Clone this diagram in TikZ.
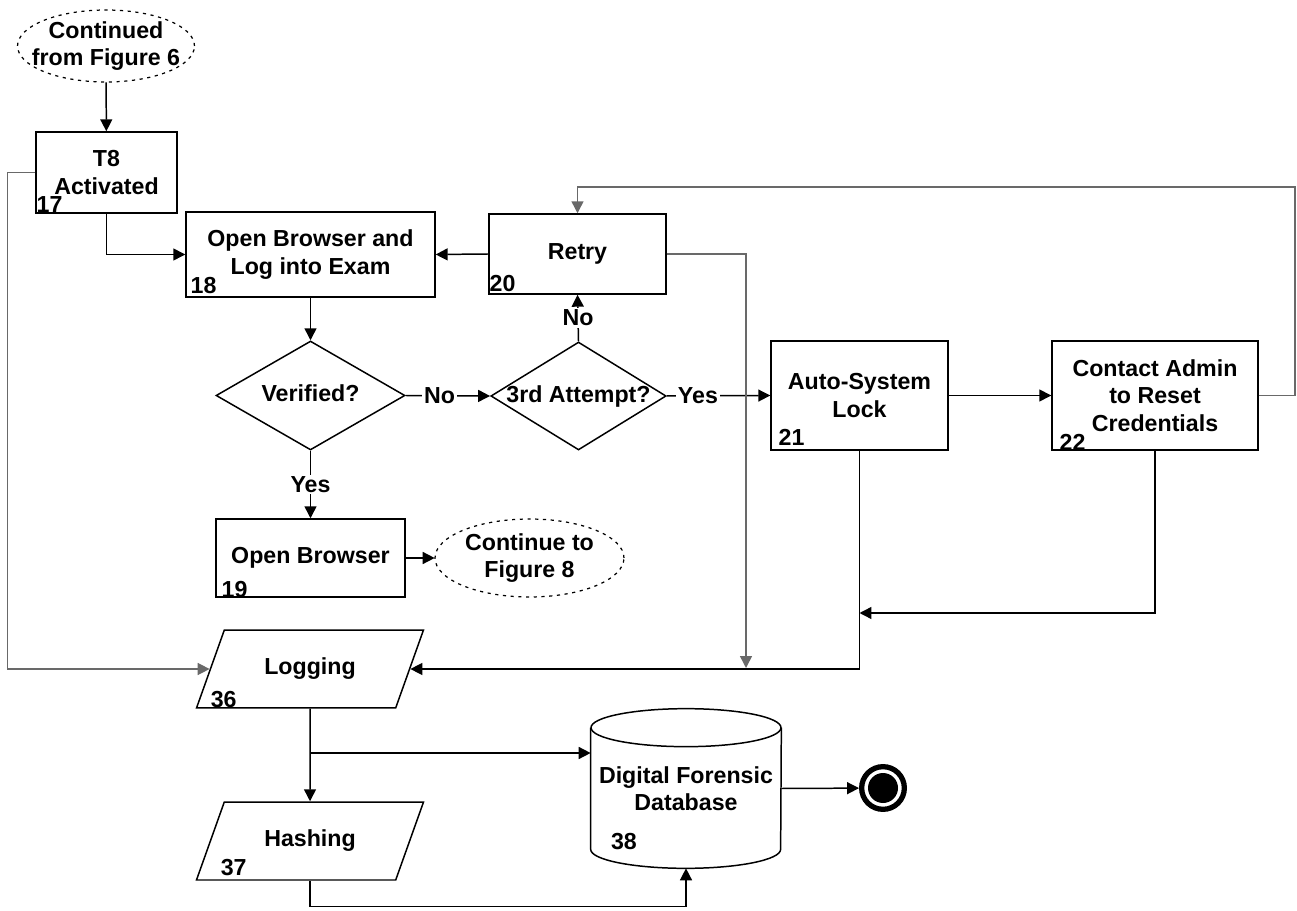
\documentclass[tikz,border=0pt]{standalone}
\usepackage{fontspec}
\setmainfont{Liberation Sans}
\usetikzlibrary{arrows.meta,shapes.geometric,calc}
\definecolor{loopgray}{RGB}{105,105,105}

\begin{document}
\begin{tikzpicture}[
	x=0.02cm, y=-0.02cm,
	>={Triangle[length=6.8pt,width=6.8pt]},
	every node/.style={font=\fontsize{13.2}{15.5}\selectfont\bfseries, align=center},
	flow/.style={->, line width=0.85pt},
	back/.style={->, line width=0.85pt, color=loopgray},
	stepbox/.style={rectangle, draw, line width=0.85pt, inner sep=2pt},
	decision/.style={diamond, draw, line width=0.85pt, aspect=1.7, inner sep=1pt,
		text height=0.72em, text depth=0pt},
	io/.style={trapezium, trapezium left angle=63.4, trapezium right angle=116.6,
		trapezium stretches=true, draw, line width=0.85pt,
		minimum width=4.56cm, minimum height=1.56cm},
	connector/.style={rectangle, inner sep=0pt},
	dotline/.style={line width=0.7pt, dash pattern=on 1.8pt off 2.6pt},
	endmark/.style={circle, draw, line width=3pt, minimum size=0.854cm, inner sep=0pt,
		path picture={\fill (path picture bounding box.center) circle (0.3cm);}},
	num/.style={anchor=base west, inner sep=0pt},
	answer/.style={fill=white, inner sep=1pt}
	]
	\useasboundingbox (0,0) rectangle (1297,911);
	
	\node[connector, minimum width=3.54cm, minimum height=1.44cm] (cont6) at (106,46) {Continued\\from Figure 6};
	\draw[dotline] (cont6.center) ellipse [x radius=1.77cm, y radius=0.72cm];
	
	\node[stepbox, minimum width=2.82cm, minimum height=1.62cm] (t8) at (106.5,172.5) {T8\\Activated};
	\node[stepbox, minimum width=4.98cm, minimum height=1.7cm] (login) at (310.5,254.5) {Open Browser and\\Log into Exam};
	\node[stepbox, minimum width=3.54cm, minimum height=1.6cm] (retry) at (577.5,254) {Retry};
	\node[decision, minimum width=3.78cm, minimum height=2.18cm] (verified) at (310.5,395.5) {Verified?};
	\node[decision, minimum width=3.5cm, minimum height=2.16cm] (attempt) at (578.5,396) {3rd Attempt?};
	\node[stepbox, minimum width=3.54cm, minimum height=2.18cm] (lock) at (859.5,395.5) {Auto-System\\Lock};
	\node[stepbox, minimum width=4.12cm, minimum height=2.18cm] (admin) at (1155,395.5) {Contact Admin\\to Reset\\Credentials};
	\node[stepbox, minimum width=3.78cm, minimum height=1.56cm] (browser) at (310.5,558) {Open Browser};
	
	\node[connector, minimum width=3.78cm, minimum height=1.56cm] (cont8) at (529.5,558) {Continue to\\Figure 8};
	\draw[dotline] (cont8.center) ellipse [x radius=1.89cm, y radius=0.78cm];
	
	\node[io] (logging) at (310,669) {Logging};
	\node[io] (hashing) at (310,841) {Hashing};
	
	% database drum
	\node[minimum width=3.8cm, minimum height=3.18cm] (db) at (686,788.5) {Digital Forensic\\Database};
	\draw[line width=0.85pt] ([yshift=-0.38cm]db.north west) -- ([yshift=0.38cm]db.south west)
		arc [start angle=180, end angle=360, x radius=1.9cm, y radius=0.38cm]
		-- ([yshift=-0.38cm]db.north east);
	\draw[line width=0.85pt] ([yshift=-0.38cm]db.north) ellipse [x radius=1.9cm, y radius=0.38cm];
	
	\node[endmark] (finish) at (883,788) {};
	
	% step numbers
	\node[num] at ([shift={(1,-1)}]t8.south west) {17};
	\node[num] at ([shift={(5,-4)}]login.south west) {18};
	\node[num] at ([shift={(6,0)}]browser.south west) {19};
	\node[num] at ([shift={(1,-3)}]retry.south west) {20};
	\node[num] at ([shift={(8,-5)}]lock.south west) {21};
	\node[num] at ([shift={(8,0)}]admin.south west) {22};
	\node[num] at ([shift={(15,-1)}]logging.bottom left corner) {36};
	\node[num] at ([shift={(25,-5)}]hashing.bottom left corner) {37};
	\node[num] at ([shift={(20,-19)}]db.south west) {38};
	
	% main flow
	\draw[flow] (cont6) -- (t8);
	\draw[flow] (t8.south) |- (login.west);
	\draw[flow] (retry.west) -- (login.east);
	\draw[flow] (login) -- (verified);
	\draw[flow] (verified.east) -- node[answer, pos=0.4] {No} (attempt.west);
	\draw[flow] (attempt.north) -- node[answer] {No} (retry.south);
	\draw[flow] (attempt.east) -- node[answer, pos=0.3] {Yes} (lock.west);
	\draw[flow] (lock) -- (admin);
	\draw[flow] (verified.south) -- node[answer] {Yes} (browser.north);
	\draw[flow] (browser) -- (cont8);
	
	% loops back and logging
	\coordinate (retryTop) at (1295,187);
	\draw[back] (admin.east) -| (retryTop) -| (retry.north);
	\coordinate (retryDrop) at (746,668);
	\draw[back] (retry.east) -| (retryDrop);
	\draw[back] (t8.west) -- ++(-28,0) |- (logging.west);
	\coordinate (lockJoin) at (859.5,613);
	\draw[flow] (admin.south) |- (lockJoin);
	\draw[flow] (lock.south) |- (logging.east);
	
	\draw[flow] (logging) -- (hashing);
	\coordinate (logSplit) at (310,753);
	\draw[flow] (logSplit) -- (logSplit -| db.west);
	\draw[flow] (hashing.south) -- ++(0,26) -| (db.south);
	\draw[flow] (db.east) -- (finish);
\end{tikzpicture}
\end{document}
